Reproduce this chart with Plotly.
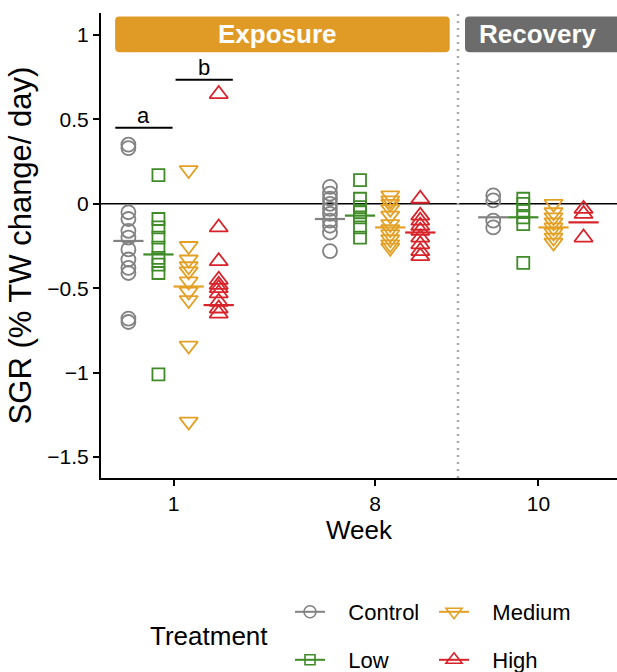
import plotly.graph_objects as go

# ---------------- data ----------------
weeks = [1, 8, 10]
week_labels = ["1", "8", "10"]
treatments = ["Control", "Low", "Medium", "High"]

control_w1 = [0.35, 0.33, -0.05, -0.09, -0.16, -0.20, -0.27, -0.33, -0.38, -0.41, -0.68, -0.70]
control_w8 = [0.10, 0.06, 0.03, 0.00, -0.03, -0.06, -0.10, -0.13, -0.17, -0.28]
control_w10 = [0.05, 0.02, -0.10, -0.14]

low_w1 = [0.17, -0.09, -0.14, -0.20, -0.26, -0.32, -0.36, -0.41, -1.01]
low_w8 = [0.14, 0.03, -0.02, -0.05, -0.08, -0.14, -0.20]
low_w10 = [0.03, 0.00, -0.04, -0.08, -0.12, -0.35]

medium_w1 = [0.20, -0.25, -0.33, -0.37, -0.40, -0.46, -0.52, -0.57, -0.84, -1.29]
medium_w8 = [0.05, 0.02, 0.00, -0.03, -0.07, -0.12, -0.15, -0.18, -0.21, -0.24, -0.26]
medium_w10 = [0.00, -0.05, -0.08, -0.11, -0.14, -0.17, -0.20, -0.23]

high_w1 = [0.65, -0.14, -0.34, -0.45, -0.48, -0.50, -0.53, -0.58, -0.62, -0.65]
high_w8 = [0.03, -0.07, -0.10, -0.13, -0.16, -0.20, -0.24, -0.28, -0.31]
high_w10 = [-0.03, -0.06, -0.20]

# group estimates (horizontal bars), per week 1, 8, 10
control_est = [-0.22, -0.09, -0.08]
low_est = [-0.30, -0.07, -0.08]
medium_est = [-0.49, -0.14, -0.14]
high_est = [-0.60, -0.17, -0.11]

sig_labels = ["a", "b"]
sig_groups = [("Control", "Low"), ("Medium", "High")]
sig_y = [0.45, 0.735]

phase_labels = ["Exposure", "Recovery"]

# ---------------- styling / layout ----------------
values = {
    "Control": [control_w1, control_w8, control_w10],
    "Low": [low_w1, low_w8, low_w10],
    "Medium": [medium_w1, medium_w8, medium_w10],
    "High": [high_w1, high_w8, high_w10],
}
estimates = {"Control": control_est, "Low": low_est, "Medium": medium_est, "High": high_est}
colors = {"Control": "#828282", "Low": "#3E8B27", "Medium": "#E3A024", "High": "#D8232A"}
symbols = {"Control": "circle-open", "Low": "square-open",
           "Medium": "triangle-down-open", "High": "triangle-up-open"}
sizes = {"Control": 14, "Low": 12, "Medium": 16, "High": 16}

week_pos = {1: 0.0, 8: 1.0, 10: 1.81}
dodge = {"Control": -0.224, "Low": -0.075, "Medium": 0.075, "High": 0.224}
half_bar = 0.075
x_range = [-0.36, 2.2]
y_range = [-1.624, 1.13]
divider_x = 1.411

FONT = "Liberation Sans, Arial, Helvetica, sans-serif"
NB = "\u00a0\u00a0\u00a0"

fig = go.Figure()

for t in treatments:
    xs, ys = [], []
    for w, vals in zip(weeks, values[t]):
        xs += [week_pos[w] + dodge[t]] * len(vals)
        ys += vals
    fig.add_trace(go.Scatter(
        x=xs, y=ys, mode="markers", showlegend=False, legendgroup=t,
        marker=dict(symbol=symbols[t], size=sizes[t], color=colors[t],
                    line=dict(width=1.8, color=colors[t])),
        hoverinfo="y", name=t))
    bx, by = [], []
    for w, e in zip(weeks, estimates[t]):
        c = week_pos[w] + dodge[t]
        bx += [c - half_bar, c + half_bar, None]
        by += [e, e, None]
    fig.add_trace(go.Scatter(x=bx, y=by, mode="lines", showlegend=False,
                             line=dict(color=colors[t], width=2.2), hoverinfo="skip"))

# legend entries: one small legend per entry, laid out as 2 x 2 like the reference
legend_slots = {"Control": ("legend", 290, 612), "Medium": ("legend2", 434, 612),
                "Low": ("legend3", 290, 660), "High": ("legend4", 434, 660)}
for t in ["Control", "Medium", "Low", "High"]:
    fig.add_trace(go.Scatter(
        x=[None], y=[None], mode="lines+markers", name=NB + t, legend=legend_slots[t][0],
        marker=dict(symbol=symbols[t], size=sizes[t] - 2, color=colors[t],
                    line=dict(width=1.6, color=colors[t])),
        line=dict(color=colors[t], width=2)))

shapes = []
# zero line
shapes.append(dict(type="line", xref="paper", yref="y", x0=0, x1=1, y0=0, y1=0,
                   line=dict(color="black", width=1.5), layer="below"))
# divider
shapes.append(dict(type="line", xref="x", yref="paper", x0=divider_x, x1=divider_x, y0=0, y1=1,
                   line=dict(color="#AAAAAA", width=2.5, dash="2px,5px"), layer="below"))


def rounded_box(x0, x1, y0, y1, rx=0.02, ry=0.024):
    return (f"M{x0+rx},{y0} L{x1-rx},{y0} Q{x1},{y0} {x1},{y0+ry} L{x1},{y1-ry} "
            f"Q{x1},{y1} {x1-rx},{y1} L{x0+rx},{y1} Q{x0},{y1} {x0},{y1-ry} "
            f"L{x0},{y0+ry} Q{x0},{y0} {x0+rx},{y0} Z")


strip_boxes = [(-0.29, 1.37, "#E09B26"), (1.446, 2.3, "#6C6C6C")]
strip_y = (0.898, 1.11)
for (x0, x1, col) in strip_boxes:
    shapes.append(dict(type="path", xref="x", yref="y",
                       path=rounded_box(x0, x1, strip_y[0], strip_y[1]),
                       fillcolor=col, line=dict(width=0)))

annotations = []
strip_text_x = [0.515, week_pos[10]]
for lab, cx in zip(phase_labels, strip_text_x):
    annotations.append(dict(x=cx, y=sum(strip_y) / 2, xref="x", yref="y", text=f"<b>{lab}</b>",
                            showarrow=False, font=dict(family=FONT, size=26, color="white")))

for lab, (g0, g1), yv in zip(sig_labels, sig_groups, sig_y):
    xa = week_pos[1] + dodge[g0] - 0.065
    xb = week_pos[1] + dodge[g1] + 0.07
    shapes.append(dict(type="line", xref="x", yref="y", x0=xa, x1=xb, y0=yv, y1=yv,
                       line=dict(color="black", width=2)))
    annotations.append(dict(x=(xa + xb) / 2, y=yv, xref="x", yref="y", text=lab,
                            showarrow=False, yanchor="bottom", yshift=-2,
                            font=dict(family=FONT, size=22, color="black")))

annotations.append(dict(x=0.091, y=-0.34, xref="paper", yref="paper", text="Treatment",
                        showarrow=False, xanchor="left", yanchor="middle",
                        font=dict(family=FONT, size=26, color="black")))

legend_layouts = {}
for t, (name, px, py) in legend_slots.items():
    legend_layouts[name] = dict(orientation="h", xref="container", yref="container",
                                x=px / 617, y=1 - py / 672, xanchor="left", yanchor="middle",
                                font=dict(family=FONT, size=22), bgcolor="rgba(0,0,0,0)")

fig.update_layout(
    width=617, height=672,
    margin=dict(l=101, r=0, t=13, b=194, autoexpand=False),
    paper_bgcolor="white", plot_bgcolor="white",
    font=dict(family=FONT, color="black"),
    shapes=shapes, annotations=annotations,
    xaxis=dict(range=x_range, tickmode="array", tickvals=[week_pos[w] for w in weeks],
               ticktext=week_labels, showgrid=False, zeroline=False, automargin=False,
               showline=True, linecolor="black", linewidth=2,
               ticks="outside", ticklen=6, tickwidth=1.5, tickcolor="black",
               tickfont=dict(family=FONT, size=21),
               title=dict(text="Week", font=dict(family=FONT, size=26), standoff=4)),
    yaxis=dict(range=y_range, tickmode="array", tickvals=[1, 0.5, 0, -0.5, -1, -1.5],
               showgrid=False, zeroline=False, automargin=False,
               showline=True, linecolor="black", linewidth=2,
               ticks="outside", ticklen=6, tickwidth=1.5, tickcolor="black",
               tickfont=dict(family=FONT, size=21),
               title=dict(text="SGR (% TW change/ day)", font=dict(family=FONT, size=31), standoff=6)),
    **legend_layouts,
)

fig.write_html("out.html", config={"displayModeBar": False},
               post_script="document.body.style.margin='0';document.body.style.overflow='hidden';")
